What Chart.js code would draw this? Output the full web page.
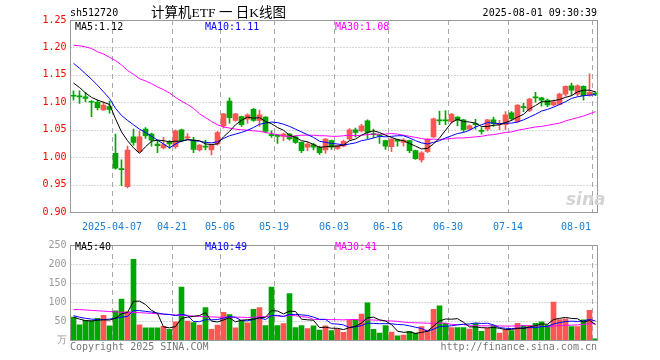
<!DOCTYPE html>
<html><head><meta charset="utf-8">
<script src="https://cdn.jsdelivr.net/npm/chart.js@4.4.1/dist/chart.umd.min.js"></script>
<style>
html,body{margin:0;padding:0;background:#fff;}
#wrap{position:relative;width:660px;height:360px;overflow:hidden;background:#fff;}
#c1{position:absolute;left:0;top:0;}
#c2{position:absolute;left:0;top:235px;}
.t{position:absolute;font-family:"DejaVu Sans Mono",monospace;font-size:10px;line-height:12px;white-space:nowrap;}
</style></head><body>
<div id="wrap">
<canvas id="c1" width="660" height="235"></canvas>
<canvas id="c2" width="660" height="125"></canvas>
<div class="t" style="left:70px;top:7px;color:#000">sh512720</div>
<div class="t" style="left:151px;top:4px;font-family:'Liberation Serif','Noto Sans CJK SC',serif;font-size:13.5px;line-height:17px;color:#000">计算机ETF 一 日K线图</div>
<div class="t" style="right:63px;top:7px;color:#000">2025-08-01 09:30:39</div>
<div class="t" style="left:75px;top:21px;color:#000">MA5:1.12</div>
<div class="t" style="left:205px;top:21px;color:#0000ff">MA10:1.11</div>
<div class="t" style="left:335px;top:21px;color:#ff00ff">MA30:1.08</div>
<div class="t" style="left:75px;top:241px;color:#000">MA5:40</div>
<div class="t" style="left:205px;top:241px;color:#0000ff">MA10:49</div>
<div class="t" style="left:335px;top:241px;color:#ff00ff">MA30:41</div>
<div class="t" style="left:70px;top:341px;color:#777">Copyright 2025 SINA.COM</div>
<div class="t" style="right:63px;top:341px;color:#777">http://finance.sina.com.cn</div>
<div class="t" style="left:566px;top:189px;font-family:'DejaVu Sans',sans-serif;font-size:17px;line-height:20px;font-weight:bold;font-style:italic;color:#d4d4d4">sina</div>
</div>
<script>
const dates = ['2025-03-26','2025-03-27','2025-03-28','2025-03-31',
'2025-04-01','2025-04-02','2025-04-03','2025-04-07','2025-04-08','2025-04-09','2025-04-10','2025-04-11','2025-04-14','2025-04-15','2025-04-16','2025-04-17','2025-04-18','2025-04-21','2025-04-22','2025-04-23','2025-04-24','2025-04-25','2025-04-28','2025-04-29','2025-04-30',
'2025-05-06','2025-05-07','2025-05-08','2025-05-09','2025-05-12','2025-05-13','2025-05-14','2025-05-15','2025-05-16','2025-05-19','2025-05-20','2025-05-21','2025-05-22','2025-05-23','2025-05-26','2025-05-27','2025-05-28','2025-05-29','2025-05-30',
'2025-06-03','2025-06-04','2025-06-05','2025-06-06','2025-06-09','2025-06-10','2025-06-11','2025-06-12','2025-06-13','2025-06-16','2025-06-17','2025-06-18','2025-06-19','2025-06-20','2025-06-23','2025-06-24','2025-06-25','2025-06-26','2025-06-27','2025-06-30',
'2025-07-01','2025-07-02','2025-07-03','2025-07-04','2025-07-07','2025-07-08','2025-07-09','2025-07-10','2025-07-11','2025-07-14','2025-07-15','2025-07-16','2025-07-17','2025-07-18','2025-07-21','2025-07-22','2025-07-23','2025-07-24','2025-07-25','2025-07-28','2025-07-29','2025-07-30','2025-07-31',
'2025-08-01'];

const open  = [1.112,1.111,1.110,1.101,1.100,1.086,1.092,1.007,0.979,0.946, 1.037,1.010,1.051,1.042,1.024,1.017,1.027,1.019,1.050,1.035, 1.030,1.013,1.020,1.013,1.024,1.057,1.102,1.067,1.074,1.069, 1.087,1.067,1.073,1.041,1.040,1.038,1.042,1.037,1.027,1.018, 1.023,1.018,1.013,1.030,1.016,1.020,1.033,1.050,1.048,1.066, 1.043,1.040,1.030,1.019,1.032,1.027,1.030,1.012,0.995,1.010, 1.037,1.068,1.067,1.065,1.073,1.068,1.051,1.061,1.049,1.051, 1.068,1.059,1.059,1.081,1.065,1.092,1.085,1.110,1.108,1.104, 1.095,1.096,1.115,1.130,1.115,1.129,1.113,1.116];
const high  = [1.121,1.121,1.118,1.103,1.104,1.101,1.102,1.042,0.995,1.020, 1.051,1.048,1.054,1.044,1.031,1.036,1.030,1.050,1.051,1.043, 1.036,1.023,1.031,1.023,1.047,1.080,1.108,1.080,1.075,1.079, 1.089,1.086,1.074,1.048,1.041,1.044,1.043,1.039,1.028,1.027, 1.025,1.020,1.034,1.031,1.022,1.031,1.052,1.053,1.060,1.068, 1.051,1.041,1.031,1.034,1.033,1.034,1.031,1.013,1.010,1.034, 1.071,1.084,1.085,1.080,1.074,1.069,1.059,1.069,1.054,1.069, 1.073,1.067,1.083,1.083,1.096,1.098,1.107,1.118,1.109,1.106, 1.104,1.117,1.130,1.135,1.132,1.130,1.152,1.119];
const low   = [1.104,1.098,1.101,1.074,1.086,1.085,1.080,0.978,0.948,0.944, 1.022,1.009,1.034,1.020,1.008,1.015,1.016,1.016,1.029,1.031, 1.008,1.011,1.013,1.004,1.022,1.053,1.062,1.065,1.056,1.062, 1.065,1.056,1.044,1.036,1.025,1.030,1.031,1.025,1.008,1.012, 1.013,1.005,1.007,1.014,1.014,1.019,1.031,1.037,1.046,1.033, 1.036,1.025,1.014,1.010,1.020,1.020,1.008,0.996,0.991,1.008, 1.036,1.059,1.059,1.062,1.057,1.046,1.050,1.051,1.042,1.048, 1.056,1.050,1.050,1.067,1.063,1.083,1.083,1.100,1.093,1.092, 1.093,1.095,1.111,1.112,1.111,1.104,1.111,1.112];
const close = [1.111,1.110,1.107,1.100,1.090,1.095,1.087,0.980,0.977,1.013, 1.027,1.037,1.039,1.031,1.021,1.023,1.024,1.048,1.030,1.037, 1.014,1.022,1.018,1.022,1.045,1.079,1.072,1.079,1.059,1.077, 1.067,1.077,1.047,1.039,1.038,1.042,1.033,1.027,1.012,1.024, 1.018,1.008,1.033,1.018,1.021,1.029,1.050,1.045,1.057,1.045, 1.041,1.039,1.020,1.033,1.029,1.031,1.012,0.997,1.008,1.033, 1.070,1.066,1.066,1.078,1.067,1.050,1.057,1.059,1.047,1.068, 1.061,1.060,1.077,1.070,1.095,1.090,1.106,1.108,1.104,1.095, 1.101,1.115,1.129,1.122,1.130,1.112,1.118,1.115];

const ma5  = [1.135,1.127,1.117,1.109,1.104,1.100,1.096,1.070,1.046,1.030, 1.017,1.007,1.019,1.029,1.031,1.030,1.028,1.029,1.029,1.032, 1.031,1.030,1.024,1.023,1.024,1.037,1.047,1.059,1.067,1.073, 1.071,1.072,1.065,1.061,1.054,1.049,1.040,1.036,1.030,1.028, 1.023,1.018,1.019,1.020,1.020,1.022,1.030,1.033,1.040,1.045, 1.048,1.045,1.040,1.036,1.032,1.030,1.025,1.020,1.015,1.016, 1.024,1.035,1.049,1.063,1.069,1.065,1.064,1.062,1.056,1.056, 1.058,1.059,1.063,1.067,1.073,1.078,1.088,1.094,1.101,1.101, 1.103,1.105,1.109,1.112,1.119,1.122,1.122,1.119];
const ma10 = [1.171,1.162,1.152,1.142,1.131,1.119,1.107,1.089,1.076,1.067, 1.059,1.051,1.045,1.038,1.031,1.024,1.017,1.024,1.029,1.032, 1.030,1.029,1.027,1.026,1.028,1.034,1.039,1.042,1.045,1.049, 1.054,1.060,1.062,1.064,1.063,1.060,1.056,1.051,1.046,1.041, 1.036,1.029,1.027,1.025,1.024,1.022,1.024,1.026,1.030,1.032, 1.035,1.038,1.037,1.038,1.039,1.039,1.035,1.030,1.026,1.024, 1.027,1.030,1.035,1.039,1.043,1.045,1.049,1.055,1.059,1.063, 1.062,1.061,1.062,1.062,1.064,1.068,1.073,1.078,1.084,1.087, 1.091,1.096,1.101,1.107,1.110,1.112,1.113,1.114];
const ma30 = [1.204,1.203,1.201,1.198,1.192,1.188,1.182,1.176,1.168,1.158, 1.151,1.143,1.139,1.134,1.128,1.123,1.117,1.109,1.102,1.096, 1.089,1.079,1.072,1.065,1.059,1.055,1.053,1.051,1.050,1.049, 1.048,1.047,1.045,1.043,1.041,1.039,1.037,1.039,1.040,1.040, 1.040,1.039,1.039,1.038,1.038,1.039,1.040,1.039,1.040,1.041, 1.042,1.042,1.042,1.043,1.042,1.040,1.038,1.036,1.034,1.032, 1.033,1.032,1.033,1.034,1.035,1.035,1.036,1.037,1.038,1.040, 1.041,1.043,1.045,1.046,1.049,1.051,1.053,1.055,1.056,1.058, 1.060,1.062,1.066,1.069,1.072,1.075,1.079,1.083];

const volume = [60,40,52,51,57,65,37,77,108,75, 212,40,32,32,32,36,28,48,139,50, 46,39,85,28,39,73,67,32,50,45, 81,85,38,139,38,43,122,33,38,30, 37,26,37,25,29,20,52,54,68,98, 28,18,38,21,11,13,23,18,35,26, 81,90,44,33,33,33,29,44,23,31, 38,18,27,25,44,38,38,44,48,39, 100,54,56,35,35,53,78,3];
const vma5  = [60,55,51,50,52,53,52.4,57.4,68.8,72.4, 101.8,102.4,93.4,78.2,69.6,34.4,32,35.2,56.6,60.2, 62.2,64.4,71.8,49.6,47.4,52.8,58.4,47.8,52.2,53.4, 55,58.6,59.8,77.6,76.2,68.6,76,75,54.8,53.2, 52,32.8,33.6,31,30.8,27.4,32.6,36,44.6,58.4, 60,53.2,50,40.6,23.2,20.2,21.2,17.2,20,23, 36.6,50,55.2,54.8,56.2,46.6,34.4,34.4,32.4,32, 33,30.8,27.4,27.8,30.4,30.4,34.4,37.8,42.4,41.4, 53.8,57,59.4,56.8,56,46.6,51.4,40.8];
const vma10 = [64,60,57,55,54,54,55,57,60,62.2, 77.4,77.4,75.4,73.5,71,68.1,67.2,64.3,67.4,64.9, 48.3,48.2,53.5,53.1,53.8,57.5,61.4,59.8,50.9,50.4, 53.9,58.5,53.8,64.9,64.8,61.8,67.3,67.4,66.2,64.7, 60.3,54.4,54.3,42.9,42,39.7,32.7,34.8,37.8,44.6, 43.7,42.9,43,42.6,40.8,40.1,37.2,33.6,30.3,23.1, 28.4,35.6,36.2,37.4,39.6,41.6,42.2,44.8,43.6,44.1, 39.8,32.6,30.9,30.1,31.2,31.7,32.6,32.6,35.1,35.9, 42.1,45.7,48.6,49.6,48.7,50.2,54.2,50.1];
const vma30 = [80,80,79,78,77,76,75,74,73,72, 72,72,71,70,69,68,67,66,65,64, 63,62,61,61,60,60,60,60,60,59.2, 59.9,61.4,60.9,63.8,63.2,62.5,65.3,63.8,61.5,60, 54.2,53.7,53.9,53.6,53.5,53,53.8,54,51.6,53.2, 52.6,51.9,50.4,50.1,49.2,47.2,45.7,45.3,44.8,44.1, 44.1,44.3,44.5,41,40.8,40.5,37.4,37.7,37.2,37.3, 37.3,37,36.7,36.7,37.2,37.8,37.3,37,36.3,34.4, 36.8,38,38.6,39,39.8,41.2,43,42.5];

const tickDates  = ['2025-04-07','2025-04-21','2025-05-06','2025-05-19','2025-06-03','2025-06-16','2025-06-30','2025-07-14','2025-08-01'];
const tickLabels = ['2025-04-07','04-21','05-06','05-19','06-03','06-16','06-30','07-14','08-01'];
const priceTicks = [0.95,1.00,1.05,1.10,1.15,1.20];
const volTicks   = [50,100,150,200];

const UP = '#ff5555', DOWN = '#00a600';
const candleColor = close.map((c,i)=> c >= open[i] ? UP : DOWN);
const tickIdx = tickDates.map(d => dates.indexOf(d));
const MONO = '"DejaVu Sans Mono", monospace';

function gridPlugin(hLines, drawDates){
  return {
    id: 'sinaGrid',
    beforeDatasetsDraw(chart){
      const {ctx, chartArea:a, scales:{x, y}} = chart;
      const cw = x.width / dates.length;
      ctx.save();
      ctx.lineWidth = 1;
      ctx.strokeStyle = '#b0b0b0';
      ctx.setLineDash([1,2]);
      hLines.forEach(v => {
        const py = Math.round(y.getPixelForValue(v)) + 0.5;
        ctx.beginPath(); ctx.moveTo(a.left, py); ctx.lineTo(a.right, py); ctx.stroke();
      });
      ctx.strokeStyle = '#a8a8a8';
      ctx.setLineDash([5,4]);
      tickIdx.forEach(i => {
        const px = Math.floor(x.getPixelForValue(i) - cw/2) + 0.5;
        ctx.beginPath(); ctx.moveTo(px, a.top); ctx.lineTo(px, a.bottom); ctx.stroke();
      });
      ctx.restore();
    },
    afterDraw(chart){
      const {ctx, chartArea:a, scales:{x}} = chart;
      const cw = x.width / dates.length;
      ctx.save();
      ctx.strokeStyle = '#999999';
      ctx.lineWidth = 1;
      ctx.setLineDash([]);
      ctx.strokeRect(Math.floor(a.left)+0.5, Math.floor(a.top)+0.5, Math.round(a.right - a.left) - 1, Math.round(a.bottom - a.top));
      if (drawDates){
        ctx.font = '10px ' + MONO;
        ctx.fillStyle = '#1a7fd6';
        ctx.textBaseline = 'middle';
        tickIdx.forEach((i, k) => {
          const px = Math.floor(x.getPixelForValue(i) - cw/2);
          if (k === tickIdx.length - 1){ ctx.textAlign = 'right'; ctx.fillText(tickLabels[k], px - 1, a.bottom + 15); }
          else { ctx.textAlign = 'center'; ctx.fillText(tickLabels[k], px, a.bottom + 15); }
        });
      }
      ctx.restore();
    }
  };
}

const xScale = { type:'category', labels: dates, offset:true, display:false, grid:{display:false} };

new Chart(document.getElementById('c1'), {
  data: {
    labels: dates,
    datasets: [
      { type:'line', data: ma5,  borderColor:'#000000', borderWidth:1, pointRadius:0, tension:0, order:0 },
      { type:'line', data: ma10, borderColor:'#0000ff', borderWidth:1, pointRadius:0, tension:0, order:0 },
      { type:'line', data: ma30, borderColor:'#ff00ff', borderWidth:1, pointRadius:0, tension:0, order:0 },
      { type:'bar', data: low.map((l,i)=>[l, high[i]]), backgroundColor: candleColor, barThickness:1, grouped:false, order:2 },
      { type:'bar', data: open.map((o,i)=>[o, close[i]]), backgroundColor: candleColor, barThickness:5, minBarLength:1, grouped:false, order:1 }
    ]
  },
  options: {
    responsive:false, animation:false, devicePixelRatio:1,
    layout:{ padding:{ left:0, right:61.5, top:20, bottom:23 } },
    plugins:{ legend:{display:false}, tooltip:{enabled:false} },
    scales:{
      x: xScale,
      y: { min:0.90, max:1.25, afterFit(s){ s.width = 70.5; },
           grid:{display:false, drawTicks:false}, border:{display:false},
           ticks:{ stepSize:0.05, padding:4, color:'#ff0000', font:{family:MONO, size:10},
                   callback:v => Number(v).toFixed(2) } }
    }
  },
  plugins:[gridPlugin(priceTicks, true)]
});

new Chart(document.getElementById('c2'), {
  data: {
    labels: dates,
    datasets: [
      { type:'line', data: vma5,  borderColor:'#000000', borderWidth:1, pointRadius:0, tension:0, order:0 },
      { type:'line', data: vma10, borderColor:'#0000ff', borderWidth:1, pointRadius:0, tension:0, order:0 },
      { type:'line', data: vma30, borderColor:'#ff00ff', borderWidth:1, pointRadius:0, tension:0, order:0 },
      { type:'bar', data: volume, backgroundColor: candleColor, barThickness:5, grouped:false, order:1 }
    ]
  },
  options: {
    responsive:false, animation:false, devicePixelRatio:1,
    layout:{ padding:{ left:0, right:61.5, top:5, bottom:20 } },
    plugins:{ legend:{display:false}, tooltip:{enabled:false} },
    scales:{
      x: xScale,
      y: { min:0, max:250, afterFit(s){ s.width = 70.5; },
           grid:{display:false, drawTicks:false}, border:{display:false},
           ticks:{ stepSize:50, padding:4, color:'#999999', font:{family:MONO, size:10},
                   callback:v => v === 0 ? '万' : String(v) } }
    }
  },
  plugins:[gridPlugin(volTicks, false)]
});
</script>
</body></html>
